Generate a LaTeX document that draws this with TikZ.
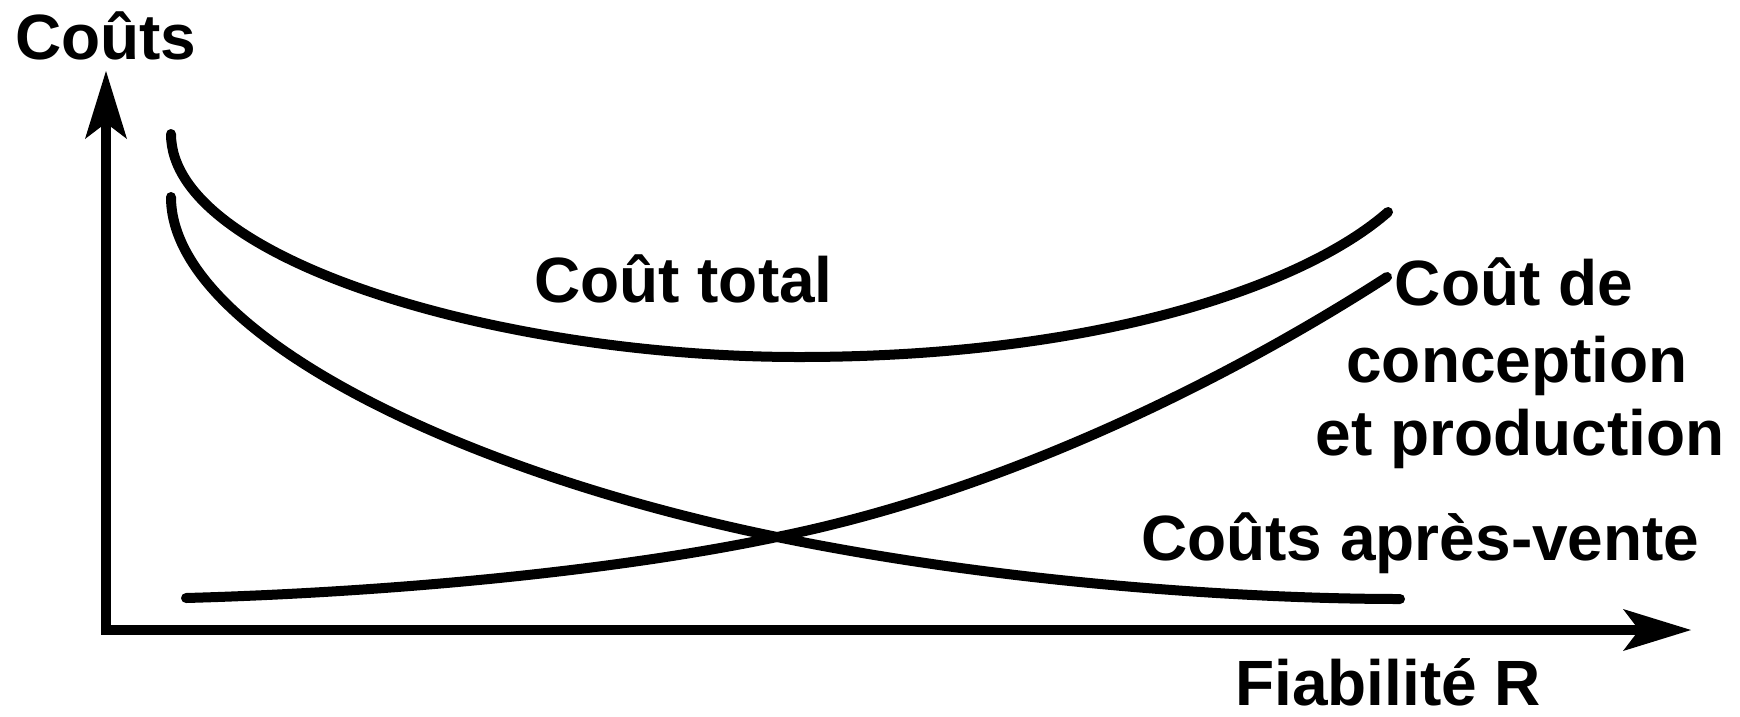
\documentclass[tikz,border=0pt]{standalone}
\usepackage{fontspec}
\setmainfont{Liberation Sans}
\usetikzlibrary{arrows.meta}
\begin{document}
\begin{tikzpicture}[x=1pt,y=-1pt,
  axis/.style={line width=9.5pt, line join=miter,
    {Stealth[length=68pt,width=42pt,inset=16pt,line width=0pt]}-{Stealth[length=68pt,width=42pt,inset=16pt,line width=0pt]}},
  courbe/.style={line width=10pt, line cap=round},
  lbl/.style={inner sep=0pt, font=\bfseries\fontsize{64}{77}\selectfont}]
\useasboundingbox (0,0) rectangle (1740,716);
% axes
\coordinate (ytip) at (106,71);
\coordinate (orig) at (106,630);
\coordinate (xtip) at (1691,630);
\draw[axis] (ytip) -- (orig) -- (xtip);
% curves
\coordinate (t0) at (171,134);
\coordinate (tm) at (799,357);
\coordinate (t1) at (1388,212);
\draw[courbe] (t0) .. controls (171,260) and (500,357) .. (tm)
  .. controls (1100,357) and (1305,285) .. (t1);
\coordinate (a0) at (171,197);
\coordinate (x) at (777,537);
\coordinate (a1) at (1400,599);
\draw[courbe] (a0) .. controls (171,330) and (450,470) .. (x)
  .. controls (1006,584) and (1250,599) .. (a1);
\coordinate (c0) at (186,598);
\coordinate (c1) at (1387,277);
\draw[courbe] (c0) .. controls (400,592) and (620,570) .. (x)
  .. controls (1010,490) and (1235,375) .. (c1);
% labels
\node[lbl, anchor=base west] (couts) at (15,59) {Coûts};
\node[lbl, anchor=base west] (total) at (534,302) {Coût total};
\node[lbl, anchor=base] (conc1) at (1514,305) {Coût de};
\node[lbl, anchor=base] (conc2) at (1517,382) {conception};
\node[lbl, anchor=base] (conc3) at (1520,455) {et production};
\node[lbl, anchor=base west] (apres) at (1141,560) {Coûts après-vente};
\node[lbl, anchor=base west] (fiab) at (1235,705) {Fiabilité R};
\end{tikzpicture}
\end{document}
